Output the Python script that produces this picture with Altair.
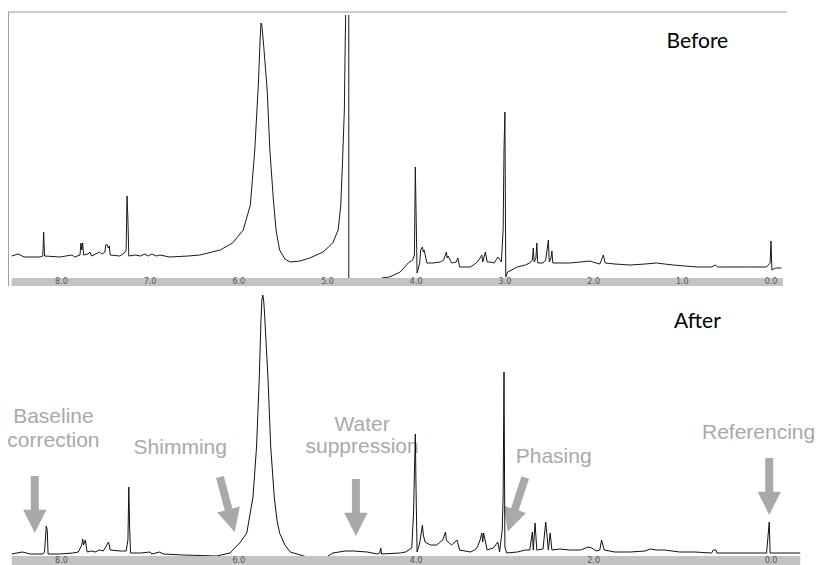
import altair as alt
import pandas as pd

# ---------------- data ----------------
# "Before" spectrum: left part (up to the off-scale water signal) and right part
before_left_ppm = [8.56, 8.49, 8.42, 8.24, 8.21, 8.20, 8.19, 8.02, 7.88, 7.85, 7.79, 7.78, 7.77, 7.76, 7.75,
                   7.70, 7.68, 7.66, 7.59, 7.57, 7.54, 7.51, 7.50, 7.49, 7.47, 7.46, 7.45, 7.34, 7.29, 7.27,
                   7.26, 7.25, 7.24, 7.17, 7.11, 7.06, 7.02, 6.98, 6.93, 6.89, 6.78, 6.57, 6.44, 6.21, 6.07,
                   5.95, 5.87, 5.82, 5.78, 5.76, 5.75, 5.74, 5.72, 5.68, 5.65, 5.61, 5.58, 5.54, 5.48, 5.42,
                   5.31, 5.20, 5.05, 4.94, 4.88, 4.85, 4.83, 4.81, 4.80, 4.795]
before_left_int = [1, 3, 0, 0, 1, 25, 1, 0, 2, 0, 2, 14, 7, 14, 2,
                   3, 5, 1, 4, 5, 3, 5, 12, 13, 9, 11, 2, 1, 4, 7,
                   61, 37, 1, 2, 1, 3, 1, 3, 1, 2, 0, 1, 2, 7, 14,
                   27, 52, 107, 172, 217, 234, 232, 212, 167, 107, 57, 27, 7, -2, -5,
                   -4, -1, 5, 14, 27, 52, 97, 147, 217, 242]

before_right_ppm = [4.76, 4.76, 4.40, 4.39, 4.30, 4.18, 4.09, 4.04, 4.02, 4.01, 3.99, 3.96, 3.95, 3.93, 3.92,
                    3.91, 3.88, 3.81, 3.73, 3.69, 3.66, 3.65, 3.64, 3.60, 3.55, 3.53, 3.51, 3.39, 3.34, 3.31,
                    3.28, 3.26, 3.25, 3.22, 3.20, 3.17, 3.12, 3.08, 3.04, 3.02, 3.01, 3.00, 2.99, 2.97, 2.86,
                    2.77, 2.72, 2.69, 2.68, 2.67, 2.65, 2.64, 2.63, 2.57, 2.54, 2.51, 2.50, 2.48, 2.47, 2.46,
                    2.38, 2.27, 2.15, 2.04, 2.01, 1.93, 1.89, 1.87, 1.76, 1.59, 1.42, 1.29, 1.20, 1.10, 0.97,
                    0.83, 0.67, 0.63, 0.60, 0.54, 0.29, 0.05, 0.01, 0.00, -0.01, -0.05, -0.12]
before_right_int = [242, -40, -40, -21, -20, -15, -6, -3, 2, 90, -16, -6, 7, 10, 5,
                    7, -6, -6, -5, -3, 5, -1, 1, -6, -5, -1, -10, -10, -7, -5,
                    -1, 2, -5, 5, -5, -5, -6, 0, -5, 27, 107, 145, -20, -15, -10,
                    -8, -6, -3, 9, -5, -1, 14, -6, -6, -3, 17, -5, -1, 6, -6,
                    -6, -6, -5, -4, -5, -7, 2, -6, -7, -8, -7, -6, -7, -8, -9,
                    -10, -10, -8, -10, -10, -10, -10, -6, 16, -13, -11, -11]

# "After" spectrum
after_ppm = [8.56, 8.44, 8.35, 8.21, 8.19, 8.17, 8.16, 8.15, 8.02, 7.87, 7.81, 7.77, 7.76, 7.75, 7.73,
             7.71, 7.66, 7.62, 7.57, 7.53, 7.50, 7.47, 7.46, 7.45, 7.34, 7.27, 7.25, 7.24, 7.23, 7.22,
             7.11, 7.00, 6.98, 6.89, 6.85, 6.63, 6.25, 6.10, 5.99, 5.91, 5.84, 5.80, 5.77, 5.75, 5.74,
             5.73, 5.72, 5.71, 5.67, 5.64, 5.60, 5.57, 5.54, 5.48, 5.42, 5.23, 5.01, 4.94, 4.80, 4.71,
             4.55, 4.44, 4.41, 4.40, 4.39, 4.18, 4.12, 4.05, 4.03, 4.01, 4.00, 3.99, 3.96, 3.93, 3.92,
             3.90, 3.84, 3.77, 3.70, 3.67, 3.66, 3.64, 3.60, 3.54, 3.51, 3.45, 3.39, 3.34, 3.31, 3.28,
             3.26, 3.25, 3.24, 3.20, 3.13, 3.08, 3.06, 3.03, 3.02, 3.01, 3.00, 2.98, 2.86, 2.77, 2.72,
             2.69, 2.68, 2.66, 2.64, 2.57, 2.54, 2.51, 2.49, 2.47, 2.38, 2.27, 2.15, 2.06, 2.02, 1.97,
             1.93, 1.91, 1.88, 1.76, 1.59, 1.42, 1.36, 1.29, 1.20, 1.03, 0.86, 0.67, 0.65, 0.62, 0.61,
             0.35, 0.05, 0.02, 0.01, -0.33]
after_int = [-1, 1, -1, -1, 1, 27, 23, -1, -1, 0, 1, 8, 14, 8, 13,
             1, 2, 1, 3, 2, 6, 11, 8, 3, 2, 2, 13, 66, 23, 0,
             0, 1, -1, 1, -1, -2, -3, 0, 10, 20, 56, 106, 173, 233, 253,
             258, 253, 240, 173, 106, 56, 33, 20, 8, 1, -4, -4, 0, 2, 2,
             1, -1, 0, 5, -1, 0, 1, 5, 40, 119, 53, 1, 10, 28, 18,
             11, 8, 8, 13, 21, 13, 11, 8, 13, 3, 2, 1, 3, 6, 13,
             20, 11, 20, 3, 5, 11, 1, 23, 56, 181, 6, 0, 1, 3, 3,
             21, 3, 30, 3, 4, 31, 3, 20, 3, 4, 3, 3, 6, 5, 2,
             3, 13, 3, 1, 1, 2, 4, 3, 3, 1, 1, 0, 3, 3, 0,
             0, 0, 31, 0, 0]

# chemical-shift tick labels (ppm)
top_ticks = [8.0, 7.0, 6.0, 5.0, 4.0, 3.0, 2.0, 1.0, 0.0]
bottom_ticks = [8.0, 6.0, 4.0, 2.0, 0.0]

# annotations of the processing steps
annot_text = ["Baseline", "correction", "Shimming", "Water", "suppression", "Phasing", "Referencing"]
annot_ppm = [8.09, 8.09, 6.66, 4.61, 4.61, 2.45, 0.14]
annot_int = [130, 106, 99, 122, 100, 90, 114]

arrow_ppm = [8.30, 6.13, 4.68, 2.87, 0.02]
arrow_int = [48.5, 48.5, 45.5, 48.5, 66.5]
arrow_angle = [0, 345, 0, 18, 0]

# ---------------- tables ----------------
before_df = pd.DataFrame({
    "ppm": before_left_ppm + before_right_ppm,
    "intensity": before_left_int + before_right_int,
    "part": ["left"] * len(before_left_ppm) + ["right"] * len(before_right_ppm),
})
before_df["i"] = range(len(before_df))

after_df = pd.DataFrame({"ppm": after_ppm, "intensity": after_int})
after_df["i"] = range(len(after_df))

top_tick_df = pd.DataFrame({"ppm": top_ticks, "label": [f"{v:.1f}" for v in top_ticks], "lvl": -25})
bot_tick_df = pd.DataFrame({"ppm": bottom_ticks, "label": [f"{v:.1f}" for v in bottom_ticks], "lvl": -7.5})

annot_df = pd.DataFrame({"ppm": annot_ppm, "intensity": annot_int, "text": annot_text})
arrow_df = pd.DataFrame({"ppm": arrow_ppm, "intensity": arrow_int, "angle": arrow_angle})

band_top_df = pd.DataFrame({"p1": [8.56], "p2": [-0.135], "lo": [-29], "hi": [-21]})
band_bot_df = pd.DataFrame({"p1": [8.56], "p2": [-0.33], "lo": [-12], "hi": [-3]})
frame_top_df = pd.DataFrame({"p1": [8.60], "p2": [-0.18], "lvl": [245]})
frame_left_df = pd.DataFrame({"p": [8.597], "lo": [-29], "hi": [245]})

# ---------------- scales ----------------
xs = alt.Scale(domain=[-0.496, 8.602], reverse=True, nice=False, zero=False)
ys_top = alt.Scale(domain=[-29, 249], nice=False, zero=False)
ys_bot = alt.Scale(domain=[-12, 267], nice=False, zero=False)

GRAY = "#a9a9a9"
ARROW = "M-0.14,-1L0.14,-1L0.14,0.18L0.41,0.18L0,1L-0.41,0.18L-0.14,0.18Z"
W = 807

# ---------------- top panel (Before) ----------------
before_line = alt.Chart(before_df).mark_line(color="#1a1a1a", strokeWidth=1, clip=True).encode(
    x=alt.X("ppm:Q", scale=xs, axis=None),
    y=alt.Y("intensity:Q", scale=ys_top, axis=None),
    detail="part:N",
    order="i:Q",
)
band_top = alt.Chart(band_top_df).mark_rect(color="#c3c3c3", clip=True).encode(
    x="p1:Q", x2="p2", y="lo:Q", y2="hi"
)
labels_top = alt.Chart(top_tick_df).mark_text(
    baseline="middle", fontSize=8, color="#555555", font="DejaVu Sans", clip=True
).encode(x="ppm:Q", y="lvl:Q", text="label:N")
frame_top = alt.Chart(frame_top_df).mark_rule(color="#9a9a9a", strokeWidth=1, clip=True).encode(
    x="p1:Q", x2="p2", y="lvl:Q"
)
frame_left = alt.Chart(frame_left_df).mark_rule(color="#9a9a9a", strokeWidth=1, clip=True).encode(
    x="p:Q", y="lo:Q", y2="hi"
)
before_title = alt.Chart(pd.DataFrame({"ppm": [0.83], "intensity": [209], "t": ["Before"]})).mark_text(
    font="Lato", fontSize=21, color="#000000", baseline="alphabetic", clip=True
).encode(x="ppm:Q", y="intensity:Q", text="t:N")

top = alt.layer(before_line, band_top, labels_top, frame_top, frame_left, before_title).properties(
    width=W, height=278
)

# ---------------- bottom panel (After) ----------------
annot = alt.Chart(annot_df).mark_text(
    font="Liberation Sans", fontSize=21, color=GRAY, baseline="alphabetic", clip=True
).encode(
    x=alt.X("ppm:Q", scale=xs, axis=None),
    y=alt.Y("intensity:Q", scale=ys_bot, axis=None),
    text="text:N",
)
arrows = alt.Chart(arrow_df).mark_point(
    shape=ARROW, filled=True, size=3249, color=GRAY, opacity=1, strokeWidth=0, clip=True
).encode(x="ppm:Q", y="intensity:Q", angle=alt.Angle("angle:Q", scale=None))
after_line = alt.Chart(after_df).mark_line(color="#111111", strokeWidth=1, clip=True).encode(
    x="ppm:Q", y="intensity:Q", order="i:Q"
)
band_bot = alt.Chart(band_bot_df).mark_rect(color="#c3c3c3", clip=True).encode(
    x="p1:Q", x2="p2", y="lo:Q", y2="hi"
)
labels_bot = alt.Chart(bot_tick_df).mark_text(
    baseline="middle", fontSize=8, color="#555555", font="DejaVu Sans", clip=True
).encode(x="ppm:Q", y="lvl:Q", text="label:N")
after_title = alt.Chart(pd.DataFrame({"ppm": [0.83], "intensity": [225], "t": ["After"]})).mark_text(
    font="Lato", fontSize=21, color="#000000", baseline="alphabetic", clip=True
).encode(x="ppm:Q", y="intensity:Q", text="t:N")

bottom = alt.layer(annot, arrows, after_line, band_bot, labels_bot, after_title).properties(
    width=W, height=279
)

chart = alt.vconcat(top, bottom, spacing=0).properties(padding=0).configure_view(stroke=None)

chart.save("out.html", embed_options={"renderer": "svg", "actions": False})
